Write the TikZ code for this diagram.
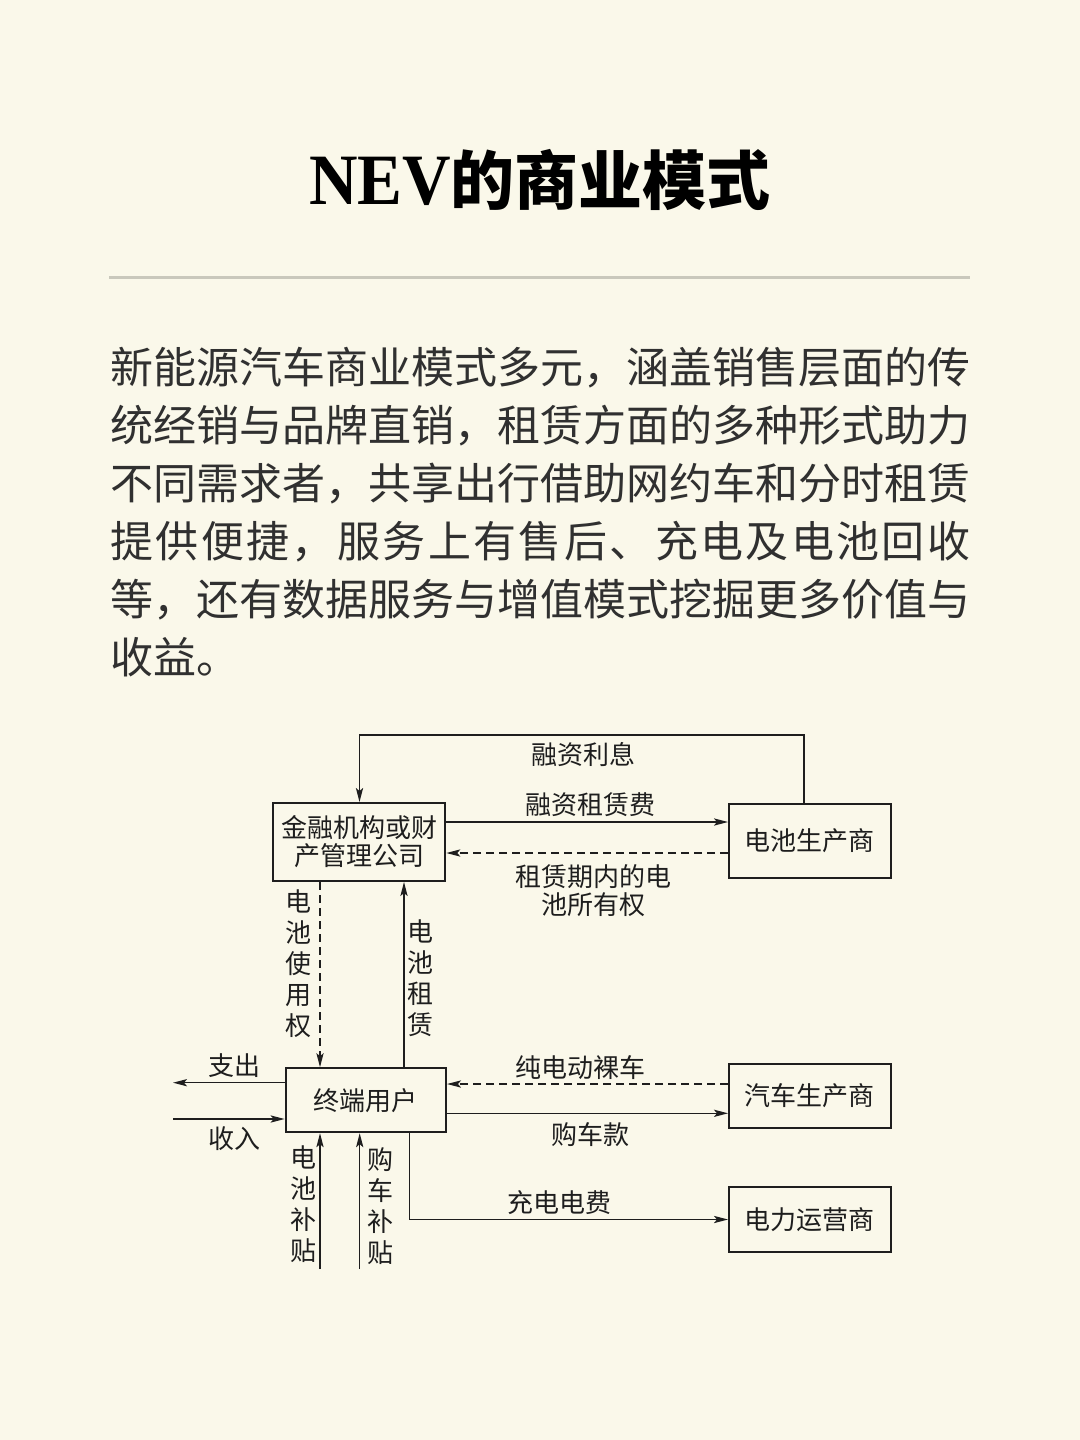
\documentclass[tikz,border=0pt]{standalone}
\usepackage{fontspec}
\usetikzlibrary{arrows.meta}
\setmainfont{Liberation Serif}
\newfontfamily\cjk{Noto Sans CJK SC}
\definecolor{bg}{HTML}{FAF8EA}
\definecolor{rulecol}{HTML}{C9C8BC}
\definecolor{ink}{HTML}{1E1E1E}
\definecolor{bodytext}{HTML}{303030}
\begin{document}
\begin{tikzpicture}[x=0.5pt,y=-0.5pt,
  box/.style={draw=ink,line width=1pt,inner sep=0pt,font=\cjk\fontsize{13pt}{14pt}\selectfont,text=ink,align=center},
  conn/.style={draw=ink,line width=0.7pt},
  arr/.style={-{Stealth[length=7pt,width=3.6pt,inset=1.5pt]}},
  dsh/.style={dash pattern=on 4pt off 2.5pt},
  lbl/.style={inner sep=0pt,font=\cjk\fontsize{13pt}{14pt}\selectfont,text=ink,align=center},
  vlbl/.style={inner sep=0pt,font=\cjk\fontsize{13pt}{15.5pt}\selectfont,text=ink,align=center},
  bodyline/.style={anchor=base west,inner sep=0pt,font=\cjk\fontsize{21.5pt}{29pt}\selectfont,text=bodytext}
]
\fill[bg] (0,0) rectangle (1080,1440);
\useasboundingbox (0,0) rectangle (1080,1440);

% title
\node[anchor=base,inner sep=0pt,text=black] (title) at (540,204)
  {\fontsize{32pt}{36pt}\selectfont\bfseries \scalebox{1.05}[1.13]{NEV}{\cjk\bfseries 的商业模式}};
\draw[rulecol,line width=1.5pt] (109,277) -- (970,277);

% body text
\node[bodyline] (b1) at (110,383) {新能源汽车商业模式多元，涵盖销售层面的传};
\node[bodyline] (b2) at (110,441) {统经销与品牌直销，租赁方面的多种形式助力};
\node[bodyline] (b3) at (110,499) {不同需求者，共享出行借助网约车和分时租赁};
\node[bodyline] (b4) at (110,557) {\makebox[430pt][l]{提\hfill 供\hfill 便\hfill 捷\hfill ，\hfill 服\hfill 务\hfill 上\hfill 有\hfill 售\hfill 后\hfill 、\hfill 充\hfill 电\hfill 及\hfill 电\hfill 池\hfill 回\hfill 收}};
\node[bodyline] (b5) at (110,615) {等，还有数据服务与增值模式挖掘更多价值与};
\node[bodyline] (b6) at (110,673) {收益。};

% boxes
\node[box,minimum width=86pt,minimum height=39pt] (fin) at (359.3,842) {金融机构或财\\产管理公司};
\node[box,minimum width=80.75pt,minimum height=37pt] (bat) at (809.75,840.5) {电池生产商};
\node[box,minimum width=80.2pt,minimum height=32pt] (user) at (365.8,1100.2) {终端用户};
\node[box,minimum width=80.75pt,minimum height=32pt] (car) at (809.75,1096) {汽车生产商};
\node[box,minimum width=80.75pt,minimum height=32.2pt] (pow) at (809.75,1219.5) {电力运营商};

% helper coordinates
\coordinate (tr) at (803.8,735);
\coordinate (tl) at (359.5,735);
\coordinate (y822) at (600,822);
\coordinate (y853) at (600,853);
\coordinate (x320) at (320,1000);
\coordinate (x404) at (404,1000);
\coordinate (outp) at (173,1082.7);
\coordinate (inp) at (173,1119);
\coordinate (y1084) at (600,1084);
\coordinate (y1113) at (600,1113.3);
\coordinate (x409) at (409.3,1180);
\coordinate (s1) at (320,1269);
\coordinate (s2) at (359.7,1269);

% connectors
\draw[conn,arr] (bat.north -| tr) -- (tr) -- (tl) -- (fin.north -| tl);
\draw[conn,arr] (fin.east |- y822) -- (bat.west |- y822);
\draw[conn,arr,dsh] (bat.west |- y853) -- (fin.east |- y853);
\draw[conn,arr,dsh] (fin.south -| x320) -- (user.north -| x320);
\draw[conn,arr] (user.north -| x404) -- (fin.south -| x404);
\draw[conn,arr] (user.west |- outp) -- (outp);
\draw[conn,arr] (inp) -- (user.west |- inp);
\draw[conn,arr,dsh] (car.west |- y1084) -- (user.east |- y1084);
\draw[conn,arr] (user.east |- y1113) -- (car.west |- y1113);
\draw[conn,arr] (user.south -| x409) |- (pow.west);
\draw[conn,arr] (s1) -- (user.south -| s1);
\draw[conn,arr] (s2) -- (user.south -| s2);

% labels
\node[lbl] (l1) at (583,755) {融资利息};
\node[lbl] (l2) at (590,805) {融资租赁费};
\node[lbl] (l3) at (593,891) {租赁期内的电\\池所有权};
\node[vlbl] (l4) at (298,964) {电\\池\\使\\用\\权};
\node[vlbl] (l5) at (420,978) {电\\池\\租\\赁};
\node[lbl] (l6) at (234,1066) {支出};
\node[lbl] (l7) at (234,1139) {收入};
\node[lbl] (l8) at (580,1068) {纯电动裸车};
\node[lbl] (l9) at (590,1135) {购车款};
\node[lbl] (l10) at (559,1203) {充电电费};
\node[vlbl] (l11) at (303.5,1204) {电\\池\\补\\贴};
\node[vlbl] (l12) at (380,1206) {购\\车\\补\\贴};
\end{tikzpicture}
\end{document}
